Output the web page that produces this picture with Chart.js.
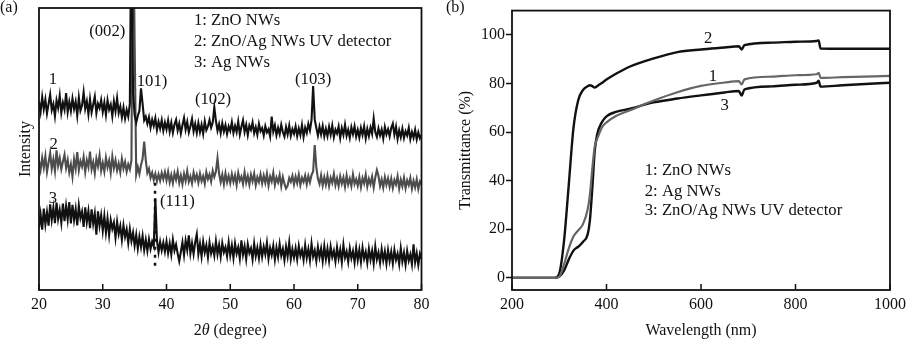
<!DOCTYPE html>
<html>
<head>
<meta charset="utf-8">
<script src="https://cdn.jsdelivr.net/npm/chart.js@4.4.0/dist/chart.umd.min.js"></script>
<style>
  html, body { margin: 0; padding: 0; background: #fff; }
  #wrap { position: relative; width: 911px; height: 339px; overflow: hidden; }
  canvas { position: absolute; top: 0; }
  #xrd { left: 0; }
  #trans { left: 440px; }
</style>
</head>
<body>
<div id="wrap">
  <canvas id="xrd" width="440" height="339"></canvas>
  <canvas id="trans" width="471" height="339"></canvas>
</div>
<script>
// XRD patterns, sampled every 0.25 degree from 20 to 80 (arbitrary intensity units)
const xrdStart = 20, xrdStep = 0.25;
const xrdTicks = [20, 30, 40, 50, 60, 70, 80];

const znoXrd = [
  66.8, 63.2, 68.4, 64.1, 67.5, 62.6, 66.0, 69.3, 63.8, 65.9, 61.7, 67.2, 64.6, 68.9, 62.9, 66.4, 64.0, 69.8, 63.1, 66.7,
  63.5, 67.9, 64.2, 66.8, 61.9, 68.2, 63.6, 65.4, 70.1, 64.3, 66.9, 62.4, 67.7, 63.0, 65.8, 68.6, 62.7, 66.1, 64.5, 67.4,
  63.2, 66.5, 62.1, 67.3, 64.0, 65.8, 61.6, 66.9, 63.4, 68.0, 62.8, 65.1, 61.2, 64.7, 60.8, 63.9, 61.5, 66.0, 140, 70.0,
  62.0, 59.4, 61.8, 63.5, 71.5, 66.0, 60.2, 61.5, 59.0, 61.3, 57.6, 60.4, 58.2, 60.9, 56.8, 59.7, 57.3, 60.2, 56.5, 59.4,
  57.0, 60.1, 56.2, 59.3, 55.8, 58.7, 60.4, 56.6, 59.0, 55.5, 58.4, 61.0, 56.9, 59.6, 55.9, 58.1, 60.7, 56.3, 58.9, 55.7,
  59.2, 56.0, 58.6, 55.4, 59.8, 56.7, 58.0, 60.3, 57.6, 59.4, 64.8, 60.0, 56.5, 58.8, 55.6, 59.1, 56.2, 58.5, 55.3, 58.0,
  56.4, 59.5, 55.7, 58.2, 56.0, 59.7, 55.2, 57.9, 60.2, 56.1, 58.6, 55.0, 58.3, 56.8, 59.4, 55.6, 57.7, 55.1, 58.9, 56.3,
  57.4, 54.8, 58.1, 55.9, 57.0, 54.5, 61.5, 56.2, 58.4, 54.9, 57.5, 55.3, 58.6, 56.0, 54.4, 57.8, 55.2, 58.3, 54.7, 57.1,
  55.4, 58.0, 54.6, 57.3, 55.0, 58.5, 54.3, 57.6, 55.7, 58.9, 56.6, 60.2, 72.3, 60.5, 57.5, 54.8, 57.9, 55.2, 58.2, 54.5,
  57.2, 54.6, 57.9, 55.1, 58.3, 54.2, 56.9, 55.5, 58.0, 53.9, 57.4, 55.0, 58.6, 54.7, 56.8, 54.0, 57.7, 55.3, 58.1, 54.4,
  56.8, 54.1, 57.5, 55.0, 58.0, 53.8, 57.1, 54.6, 57.6, 55.4, 60.8, 56.0, 54.3, 57.3, 54.8, 56.9, 53.7, 57.8, 55.2, 57.0,
  54.5, 57.4, 59.0, 55.1, 57.9, 53.6, 56.6, 54.2, 57.2, 53.9, 56.3, 54.8, 57.5, 53.5, 56.0, 54.0, 56.8, 53.4, 55.9, 53.8,
  55.0
];

const hybridXrd = [
  45.8, 42.6, 46.9, 43.4, 47.5, 41.8, 45.2, 48.6, 43.0, 46.3, 42.2, 49.5, 44.1, 46.8, 42.9, 45.5, 48.0, 43.3, 46.1, 41.7,
  44.6, 40.2, 46.4, 43.0, 48.9, 42.5, 45.7, 43.8, 47.2, 41.9, 46.0, 43.6, 49.1, 42.8, 45.3, 41.4, 46.6, 43.9, 47.8, 42.3,
  45.1, 42.0, 46.9, 43.5, 45.9, 41.6, 47.3, 43.2, 46.0, 42.4, 44.9, 41.8, 46.5, 43.1, 45.4, 42.0, 44.6, 42.8, 46.0, 140,
  88.0, 41.0, 43.6, 41.2, 44.3, 46.5, 52.6, 46.0, 41.5, 43.0, 39.8, 41.6, 39.0, 41.2, 38.6, 41.0, 38.8, 41.5, 39.3, 41.8,
  38.9, 41.9, 38.2, 40.8, 37.9, 41.4, 39.1, 42.0, 38.0, 40.6, 37.6, 41.2, 38.7, 42.2, 38.4, 40.3, 37.8, 41.6, 39.0, 40.9,
  38.1, 41.3, 38.6, 40.4, 37.7, 41.8, 39.3, 41.0, 38.5, 42.3, 40.1, 42.0, 46.7, 41.2, 38.3, 40.9, 37.5, 41.4, 38.2, 40.5,
  37.9, 41.1, 38.4, 40.7, 37.3, 41.5, 38.8, 40.2, 37.6, 41.7, 38.1, 40.4, 37.4, 40.9, 38.6, 41.3, 37.2, 40.0, 38.3, 41.0,
  37.8, 40.6, 38.0, 41.2, 37.1, 40.3, 38.5, 41.6, 37.3, 39.9, 38.2, 40.8, 36.8, 40.1, 37.7, 36.0, 37.0, 39.7, 38.4, 40.5,
  37.4, 40.2, 37.9, 40.9, 37.2, 39.8, 38.3, 40.6, 37.5, 40.4, 38.2, 40.8, 42.0, 51.4, 43.5, 39.4, 37.6, 40.7, 37.1, 40.0,
  37.3, 40.5, 36.9, 39.8, 38.0, 41.1, 37.2, 39.6, 36.8, 40.3, 37.7, 39.9, 36.6, 40.6, 37.4, 39.5, 36.9, 41.0, 37.6, 39.3,
  37.0, 40.1, 36.5, 39.7, 37.8, 40.9, 36.7, 39.4, 37.5, 40.2, 36.4, 39.9, 42.5, 40.5, 36.9, 39.2, 36.3, 40.0, 37.3, 39.6,
  36.6, 39.5, 36.2, 39.0, 37.4, 40.3, 36.0, 39.1, 36.8, 39.8, 36.1, 38.9, 37.2, 39.7, 35.9, 38.7, 36.4, 39.3, 35.8, 38.5,
  37.5
];

const agXrd = [
  22.0, 26.8, 21.4, 28.9, 23.3, 27.6, 22.8, 30.4, 24.9, 29.1, 23.7, 31.0, 25.2, 28.4, 23.9, 30.6, 24.4, 29.8, 25.0, 31.2,
  23.6, 30.2, 24.8, 28.7, 22.9, 29.9, 25.5, 27.8, 22.4, 29.3, 24.1, 28.0, 21.9, 28.6, 23.5, 27.1, 19.6, 27.9, 22.8, 26.5,
  21.0, 26.2, 20.4, 25.3, 19.5, 24.8, 21.7, 23.9, 18.6, 24.2, 19.9, 22.7, 17.8, 22.9, 18.9, 21.5, 16.7, 21.6, 17.4, 20.3,
  15.8, 19.6, 14.7, 18.9, 15.3, 19.2, 14.2, 17.8, 13.9, 18.0, 14.6, 17.2, 15.5, 32.5, 17.6, 13.4, 17.1, 14.0, 16.8, 13.6,
  17.2, 13.1, 16.5, 12.6, 17.8, 14.0, 16.1, 12.9, 10.2, 13.5, 16.9, 12.4, 17.5, 14.2, 19.4, 13.0, 16.6, 12.8, 17.0, 19.8,
  12.8, 16.4, 11.9, 17.1, 13.3, 15.9, 11.6, 16.8, 13.0, 15.4, 12.2, 17.3, 12.7, 16.0, 11.8, 16.6, 13.4, 15.2, 12.0, 16.9,
  12.3, 15.8, 11.4, 16.5, 12.9, 15.1, 11.2, 17.6, 12.5, 15.5, 11.0, 16.2, 13.1, 14.8, 10.9, 16.4, 12.0, 15.0, 11.3, 16.0,
  11.8, 15.3, 12.6, 16.7, 11.1, 14.9, 12.4, 15.7, 10.8, 15.0, 11.7, 16.3, 12.2, 14.6, 10.6, 15.4, 11.9, 16.8, 11.0, 14.5,
  11.5, 14.8, 10.9, 15.6, 12.1, 14.2, 10.7, 15.9, 11.4, 14.5, 10.5, 16.4, 11.8, 14.0, 10.3, 15.2, 11.6, 14.7, 10.2, 15.5,
  11.0, 14.6, 10.4, 15.3, 11.7, 13.9, 10.1, 15.1, 11.2, 14.3, 9.9, 16.0, 11.5, 13.6, 10.0, 14.8, 11.3, 13.8, 9.8, 14.9,
  10.6, 14.2, 9.9, 15.0, 11.1, 13.5, 9.7, 14.6, 10.8, 13.9, 9.5, 15.4, 10.9, 13.3, 9.6, 14.4, 10.5, 13.7, 9.4, 14.1,
  10.3, 13.6, 9.4, 14.2, 10.7, 12.9, 9.2, 14.8, 10.1, 13.2, 9.0, 13.9, 10.4, 12.6, 9.1, 16.2, 9.8, 13.0, 8.9, 12.8,
  11.0
];

// dashed guide through the Ag (111) reflection
const agMarkerAngle = 38.2;
const agMarkerLevels = [38, 8];

// UV-vis transmittance (%)
const wavelengths = [200, 290, 300, 310, 320, 330, 340, 350, 360, 365, 370, 375, 380, 390, 400, 420, 450,
  500, 550, 600, 650, 680, 686, 692, 750, 800, 845, 849, 853, 900, 1000];
const znoTrans = [0, 0, 0.5, 5.5, 12, 17, 19.5, 22, 28, 34.5, 45, 54, 57, 61.8, 64, 66.6, 69.0,
  73.0, 76.4, 79.0, 80.4, 81.0, 79.6, 81.7, 82.8, 83.4, 83.8, 84.4, 82.3, 82.6, 83.1];
const agTrans = [0, 0, 1.8, 15, 38, 61.5, 73, 77.3, 78.9, 79.3, 78.9, 78.3, 78.9, 80.2, 81.6, 84.0, 87.0,
  90.3, 92.9, 94.0, 94.8, 95.3, 94.0, 95.8, 96.8, 97.2, 97.5, 97.7, 94.4, 94.3, 94.3];
const hybridTrans = [0, 0, 0.5, 3, 7.5, 11.2, 12.8, 14.8, 17.8, 24, 37, 52, 58.8, 64, 66.5, 68.3, 69.6,
  72.2, 73.8, 75.1, 76.3, 76.9, 75.0, 77.6, 78.8, 79.5, 80.3, 81.1, 78.7, 79.3, 80.3];
const transXTicks = [200, 400, 600, 800, 1000];
const transYTicks = [0, 20, 40, 60, 80, 100];

const serif = "'Liberation Serif', 'Times New Roman', serif";
const ink = '#111';
const gray = '#4d4d4d';
const noteSize = 16.7;
Chart.defaults.font.family = serif;
Chart.defaults.font.size = 16;
Chart.defaults.color = ink;

// box around the plot area plus short inward x ticks
const framePlugin = {
  id: 'frame',
  afterDraw(chart) {
    const { ctx, chartArea: a } = chart;
    const xs = chart.scales.x;
    ctx.save();
    ctx.strokeStyle = ink;
    ctx.lineWidth = 1.5;
    xs.ticks.forEach(t => {
      const px = xs.getPixelForValue(t.value);
      ctx.beginPath();
      ctx.moveTo(px, a.bottom);
      ctx.lineTo(px, a.bottom - 6);
      ctx.stroke();
    });
    ctx.lineWidth = 1.8;
    ctx.strokeRect(a.left, a.top, a.right - a.left, a.bottom - a.top);
    ctx.restore();
  }
};

// text placed in data coordinates (peak names, curve numbers, key)
const notesPlugin = {
  id: 'notes',
  beforeDatasetsDraw(chart, args, opts) {
    const { ctx, scales: { x, y } } = chart;
    ctx.save();
    ctx.fillStyle = ink;
    ctx.font = `${noteSize}px ${serif}`;
    ctx.textBaseline = 'middle';
    (opts.items || []).forEach(n => {
      ctx.textAlign = n.align || 'center';
      ctx.fillText(n.text, x.getPixelForValue(n.x), y.getPixelForValue(n.y));
    });
    ctx.restore();
  }
};

// panel letter in the corner
const tagPlugin = {
  id: 'tag',
  afterDraw(chart, args, opts) {
    if (!opts.text) return;
    const { ctx } = chart;
    ctx.save();
    ctx.fillStyle = ink;
    ctx.font = `16px ${serif}`;
    ctx.textAlign = 'left';
    ctx.textBaseline = 'middle';
    ctx.fillText(opts.text, opts.left, opts.top);
    ctx.restore();
  }
};

// x title with an italic theta
const thetaTitlePlugin = {
  id: 'thetaTitle',
  afterDraw(chart, args, opts) {
    if (!opts.show) return;
    const { ctx, chartArea: a } = chart;
    const parts = [['2', 'normal'], ['θ', 'italic'], [' (degree)', 'normal']];
    ctx.save();
    ctx.fillStyle = ink;
    ctx.textBaseline = 'middle';
    ctx.textAlign = 'left';
    let total = 0;
    parts.forEach(p => { ctx.font = `${p[1]} 16px ${serif}`; total += ctx.measureText(p[0]).width; });
    let px = (a.left + a.right) / 2 - total / 2;
    const py = chart.height - 8;
    parts.forEach(p => {
      ctx.font = `${p[1]} 16px ${serif}`;
      ctx.fillText(p[0], px, py);
      px += ctx.measureText(p[0]).width;
    });
    ctx.restore();
  }
};

const toPoints = vals => vals.map((v, i) => ({ x: xrdStart + i * xrdStep, y: v }));
const pair = (xs, ys) => xs.map((x, i) => ({ x: x, y: ys[i] }));
const plain = v => String(v);

const commonOpts = {
  responsive: false,
  animation: false,
  devicePixelRatio: 1,
  elements: { point: { radius: 0 } }
};

new Chart(document.getElementById('xrd'), {
  type: 'line',
  data: {
    datasets: [
      { label: 'Ag (111)', data: agMarkerLevels.map(v => ({ x: agMarkerAngle, y: v })),
        borderColor: ink, borderWidth: 2.5, borderDash: [3, 5] },
      { label: 'ZnO NWs', data: toPoints(znoXrd), borderColor: ink, borderWidth: 2.1 },
      { label: 'ZnO/Ag NWs UV detector', data: toPoints(hybridXrd), borderColor: gray, borderWidth: 2.1 },
      { label: 'Ag NWs', data: toPoints(agXrd), borderColor: ink, borderWidth: 2.1 }
    ]
  },
  options: {
    ...commonOpts,
    layout: { padding: { top: 8, right: 18.5, left: 0, bottom: 0 } },
    plugins: {
      legend: { display: false },
      tooltip: { enabled: false },
      tag: { text: '(a)', left: 0, top: 8 },
      thetaTitle: { show: true },
      notes: {
        items: [
          { text: '(002)', x: 30.7, y: 91.6 },
          { text: '(101)', x: 37.3, y: 73.9 },
          { text: '(102)', x: 47.3, y: 67.4 },
          { text: '(103)', x: 63.0, y: 74.7 },
          { text: '(111)', x: 41.7, y: 31.3 },
          { text: '1', x: 22.2, y: 74.5 },
          { text: '2', x: 22.3, y: 51.4 },
          { text: '3', x: 22.2, y: 32.5 },
          { text: '1: ZnO NWs', x: 44.3, y: 95.5, align: 'left' },
          { text: '2: ZnO/Ag NWs UV detector', x: 44.3, y: 88.0, align: 'left' },
          { text: '3: Ag NWs', x: 44.3, y: 80.6, align: 'left' }
        ]
      }
    },
    scales: {
      x: {
        type: 'linear', min: 20, max: 80,
        afterBuildTicks: s => { s.ticks = xrdTicks.map(v => ({ value: v })); },
        ticks: { color: ink, padding: 5, callback: plain },
        grid: { display: false, drawTicks: false },
        border: { display: false },
        afterFit: s => { s.height = 49; }
      },
      y: {
        min: 0, max: 100,
        ticks: { display: false },
        grid: { display: false, drawTicks: false },
        border: { display: false },
        title: { display: true, text: 'Intensity', color: ink, font: { size: 16, lineHeight: 1 }, padding: { top: 18, bottom: 0 } },
        afterFit: s => { s.width = 39; }
      }
    }
  },
  plugins: [framePlugin, notesPlugin, tagPlugin, thetaTitlePlugin]
});

new Chart(document.getElementById('trans'), {
  type: 'line',
  data: {
    datasets: [
      { label: 'ZnO NWs', data: pair(wavelengths, znoTrans), borderColor: '#666', borderWidth: 2.2 },
      { label: 'Ag NWs', data: pair(wavelengths, agTrans), borderColor: ink, borderWidth: 2.4 },
      { label: 'ZnO/Ag NWs UV detector', data: pair(wavelengths, hybridTrans), borderColor: ink, borderWidth: 2.4 }
    ]
  },
  options: {
    ...commonOpts,
    elements: { point: { radius: 0 }, line: { cubicInterpolationMode: 'monotone' } },
    layout: { padding: { top: 8, right: 17, left: 0, bottom: 0 } },
    plugins: {
      legend: { display: false },
      tooltip: { enabled: false },
      tag: { text: '(b)', left: 6, top: 8 },
      notes: {
        items: [
          { text: '2', x: 615, y: 98.6 },
          { text: '1', x: 625, y: 83.0 },
          { text: '3', x: 650, y: 70.8 },
          { text: '1: ZnO NWs', x: 481, y: 44.2, align: 'left' },
          { text: '2: Ag NWs', x: 481, y: 35.5, align: 'left' },
          { text: '3: ZnO/Ag NWs UV detector', x: 481, y: 27.6, align: 'left' }
        ]
      }
    },
    scales: {
      x: {
        type: 'linear', min: 200, max: 1000,
        afterBuildTicks: s => { s.ticks = transXTicks.map(v => ({ value: v })); },
        ticks: { color: ink, padding: 5, callback: plain },
        grid: { display: false, drawTicks: false },
        border: { display: false },
        title: { display: true, text: 'Wavelength (nm)', color: ink, font: { size: 16, lineHeight: 1 }, padding: { top: 0, bottom: 0 } },
        afterFit: s => { s.height = 49; }
      },
      y: {
        min: -5, max: 110,
        afterBuildTicks: s => { s.ticks = transYTicks.map(v => ({ value: v })); },
        ticks: { color: ink, padding: 1, callback: plain },
        grid: { display: true, drawOnChartArea: false, drawTicks: true, tickLength: 6, tickWidth: 1.5, tickColor: ink, color: ink },
        border: { display: false },
        title: { display: true, text: 'Transmittance (%)', color: ink, font: { size: 16, lineHeight: 1 }, padding: { top: 18, bottom: 0 } },
        afterFit: s => { s.width = 72; }
      }
    }
  },
  plugins: [framePlugin, notesPlugin, tagPlugin]
});
</script>
</body>
</html>
